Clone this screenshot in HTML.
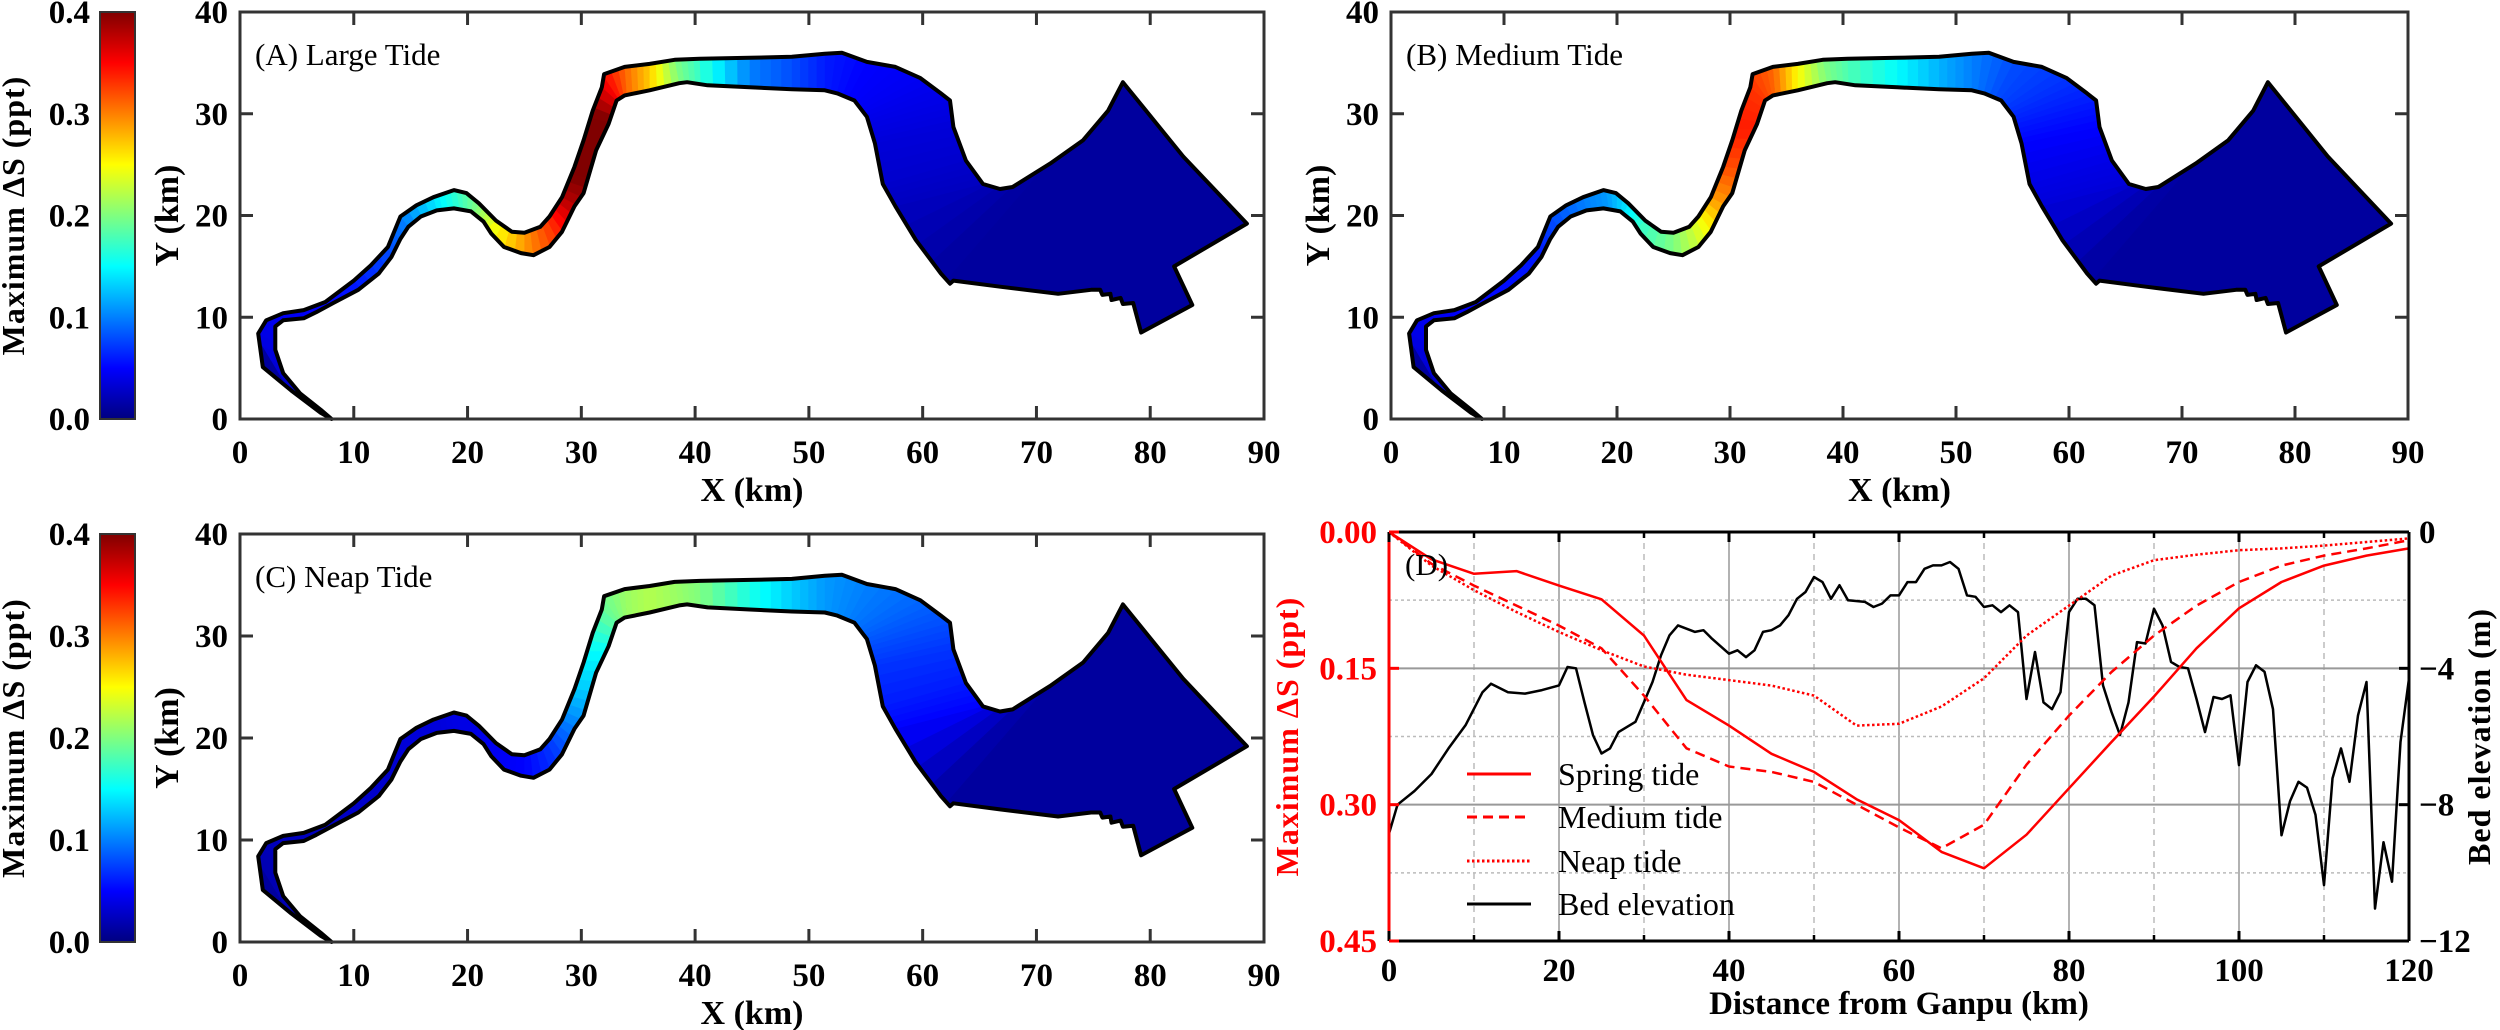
<!DOCTYPE html>
<html><head><meta charset="utf-8"><style>
html,body{margin:0;padding:0;background:#fff;}
svg{display:block;font-family:"Liberation Serif","Times New Roman",serif;}
</style></head><body>
<svg id="fig" width="2500" height="1030" viewBox="0 0 2500 1030" xmlns="http://www.w3.org/2000/svg">
<defs>
<linearGradient id="jetGrad" x1="0" y1="1" x2="0" y2="0">
<stop offset="0" stop-color="#000080"/><stop offset="0.125" stop-color="#0000ff"/><stop offset="0.375" stop-color="#00ffff"/><stop offset="0.625" stop-color="#ffff00"/><stop offset="0.875" stop-color="#ff0000"/><stop offset="1" stop-color="#800000"/>
</linearGradient>
</defs>
<g id="root"></g>
</svg>
<script>
// ---------- River map data (km) ----------
const outline = [[8.05,0.0],[7.1,0.6],[4.5,2.8],[2.0,5.1],[1.6,8.4],[2.3,9.7],[3.8,10.4],[5.6,10.7],[7.5,11.5],[10.0,13.6],[11.5,15.1],[13.0,16.9],[14.1,19.9],[15.5,21.0],[17.0,21.8],[18.8,22.5],[19.9,22.2],[21.0,21.2],[22.5,19.5],[23.9,18.4],[25.0,18.3],[26.4,18.9],[27.2,19.9],[28.3,21.8],[29.4,24.8],[30.2,27.4],[31.0,30.3],[31.8,32.6],[32.0,33.9],[33.8,34.6],[36.0,34.9],[38.2,35.3],[40.4,35.4],[44.8,35.5],[48.5,35.6],[51.4,35.9],[52.9,36.0],[55.1,35.1],[57.6,34.6],[59.8,33.5],[61.6,32.0],[62.4,31.3],[62.7,28.7],[63.8,25.4],[65.3,23.1],[66.8,22.6],[67.9,22.8],[71.2,25.1],[74.1,27.4],[76.3,30.3],[77.6,33.1],[82.9,25.8],[88.5,19.2],[82.1,15.0],[83.7,11.2],[79.2,8.5],[78.5,11.4],[77.6,11.3],[77.4,11.9],[76.6,11.7],[76.5,12.3],[75.8,12.2],[75.6,12.7],[74.8,12.7],[71.9,12.3],[66.8,13.0],[62.7,13.6],[62.4,13.3],[61.6,14.3],[59.4,17.6],[57.6,20.9],[56.5,23.1],[55.8,27.1],[55.1,29.7],[54.0,31.3],[52.5,32.0],[51.4,32.3],[48.5,32.4],[44.8,32.6],[41.1,32.8],[39.3,33.1],[38.6,33.0],[36.0,32.3],[33.8,31.8],[33.1,31.3],[32.4,29.0],[31.3,26.4],[30.2,22.2],[29.4,20.9],[28.3,18.4],[27.2,16.9],[25.8,16.1],[24.7,16.3],[23.2,16.9],[22.1,18.2],[21.4,19.4],[20.3,20.4],[18.8,20.7],[17.3,20.5],[15.9,19.9],[14.8,18.9],[14.1,17.7],[13.3,15.9],[12.2,14.3],[10.4,12.7],[8.2,11.4],[6.7,10.5],[5.6,9.9],[3.8,9.7],[3.1,9.1],[3.1,6.8],[3.8,4.5],[5.3,2.5],[7.1,0.9]];
const secL = [[8.0,0.0],[4.5,2.8],[1.6,8.4],[3.8,10.4],[7.5,11.5],[10.0,13.6],[13.0,16.9],[14.1,19.9],[17.0,21.8],[19.0,22.5],[21.0,21.2],[22.5,19.5],[25.0,18.3],[27.0,19.5],[28.3,21.8],[29.4,24.8],[30.6,28.5],[31.8,32.6],[33.8,34.6],[36.0,34.9],[38.2,35.3],[40.4,35.4],[44.8,35.5],[48.5,35.6],[51.4,35.9],[55.1,35.1],[59.8,33.5],[62.4,31.3],[62.7,28.7],[63.8,25.4],[65.3,23.1],[70.5,24.6]];
const secR = [[8.1,0.0],[5.3,2.5],[3.1,7.5],[3.8,9.7],[8.2,10.8],[10.8,12.6],[13.5,15.6],[14.8,18.9],[17.3,20.5],[19.3,20.6],[20.6,20.2],[21.8,18.8],[25.0,16.2],[27.8,17.8],[29.6,21.0],[30.8,24.6],[32.1,28.5],[33.0,31.4],[34.0,31.7],[36.0,32.3],[38.6,33.0],[40.5,32.8],[44.8,32.6],[48.5,32.4],[51.4,32.3],[53.5,31.7],[54.8,30.5],[55.3,29.0],[55.8,27.1],[56.5,23.1],[57.6,20.9],[62.0,13.8]];
const valLarge  = [.02,.03,.04,.045,.05,.06,.08,.10,.14,.17,.20,.24,.29,.33,.38,.41,.42,.36,.31,.27,.20,.17,.10,.08,.06,.05,.045,.04,.035,.03,.025,.012];
const valMedium = [.02,.03,.04,.045,.05,.055,.06,.08,.10,.11,.14,.17,.20,.24,.29,.32,.34,.33,.31,.25,.20,.18,.15,.12,.10,.08,.07,.06,.05,.04,.035,.012];
const valNeap   = [.015,.02,.02,.025,.025,.03,.03,.035,.035,.04,.04,.045,.05,.07,.10,.13,.15,.19,.21,.22,.21,.20,.16,.13,.11,.10,.09,.08,.07,.06,.05,.012];
const cbTicks = [0,0.1,0.2,0.3,0.4];
const mapXTicks = [0,10,20,30,40,50,60,70,80,90];
const mapYTicks = [0,10,20,30,40];

// ---------- Profile chart data (panel D) ----------
const distKm = [0,5,10,15,20,25,30,35,40,45,50,55,60,65,70,75,80,85,90,95,100,105,110,115,120];
const springS = [0,0.030,0.046,0.043,0.059,0.074,0.114,0.185,0.213,0.244,0.264,0.294,0.317,0.352,0.370,0.333,0.282,0.231,0.181,0.128,0.084,0.055,0.037,0.026,0.018];
const mediumS = [0,0.035,0.059,0.081,0.103,0.128,0.180,0.238,0.258,0.264,0.275,0.300,0.325,0.348,0.322,0.256,0.202,0.154,0.114,0.081,0.055,0.037,0.026,0.018,0.009];
const neapS   = [0,0.037,0.064,0.088,0.110,0.130,0.148,0.157,0.163,0.169,0.180,0.213,0.211,0.192,0.161,0.114,0.081,0.048,0.031,0.025,0.020,0.018,0.015,0.011,0.007];
const bedKm = [0,1,3,5,7,9,11,12,14,16,18,20,21,22,23,24,25,26,27,29,30,31,32,33,34,36,37,38,40,41,42,43,44,45,46,47,48,49,50,51,52,53,54,56,57,58,59,60,61,62,63,64,65,66,67,68,69,70,71,72,73,74,75,76,77,78,79,80,81,82,83,84,85,86,87,88,89,90,91,92,93,94,95,96,97,98,99,100,101,102,103,104,105,106,107,108,109,110,111,112,113,114,115,116,117,118,119,120];
const bedElev = [-8.85,-8.0,-7.6,-7.1,-6.35,-5.67,-4.7,-4.45,-4.7,-4.74,-4.64,-4.5,-3.96,-4.0,-5.0,-5.96,-6.5,-6.35,-5.87,-5.57,-4.99,-4.4,-3.62,-3.03,-2.74,-2.93,-2.88,-3.13,-3.57,-3.47,-3.67,-3.47,-2.93,-2.88,-2.74,-2.44,-1.96,-1.76,-1.32,-1.47,-1.96,-1.56,-2.0,-2.05,-2.2,-2.1,-1.86,-1.86,-1.47,-1.47,-1.08,-0.98,-0.98,-0.88,-1.08,-1.86,-1.9,-2.2,-2.15,-2.35,-2.15,-2.35,-4.9,-3.52,-5.0,-5.2,-4.7,-2.35,-1.96,-1.96,-2.15,-4.5,-5.28,-5.96,-5.0,-3.23,-3.27,-2.25,-2.74,-3.81,-3.96,-4.0,-4.9,-5.87,-4.84,-4.9,-4.79,-6.84,-4.4,-3.91,-4.1,-5.2,-8.9,-7.9,-7.33,-7.5,-8.3,-10.36,-7.23,-6.35,-7.33,-5.38,-4.4,-11.05,-9.1,-10.26,-6.16,-4.3];
const dXTicks = [0,20,40,60,80,100,120];
const dSTicks = [0,0.15,0.30,0.45];
const dETicks = [0,-4,-8,-12];
const legendLabels = ["Spring tide","Medium tide","Neap tide","Bed elevation"];

const NS = "http://www.w3.org/2000/svg";
const root = document.getElementById('root');
function mk(tag, attrs, parent){ const e=document.createElementNS(NS,tag); for(const k in attrs) e.setAttribute(k,attrs[k]); (parent||root).appendChild(e); return e; }
function txt(s, attrs, parent){ const e=mk('text',attrs,parent); e.textContent=s; return e; }
function jet(v){ const t=Math.max(0,Math.min(1,v/0.4)); const c=x=>Math.round(255*Math.max(0,Math.min(1,1.5-Math.abs(4*t-x)))); return `rgb(${c(3)},${c(2)},${c(1)})`; }

function mapPanel(id, x0, x1, y0, y1, vals, label, name){
  const sx=(x1-x0)/90, sy=(y1-y0)/40;
  const X=k=>x0+k*sx, Y=k=>y1-k*sy;
  const g=mk('g',{});
  
  
  const pts=outline.map(p=>X(p[0]).toFixed(1)+','+Y(p[1]).toFixed(1)).join(' ');
  const cp=mk('clipPath',{id:'clip'+id},g); mk('polygon',{points:pts},cp);
  const river=mk('polygon',{points:pts,fill:jet(0.012),stroke:'none'},g);
  
  
  const cg=mk('g',{'clip-path':`url(#clip${id})`},g);
  const ext=(a,b,f)=>[a[0]+(a[0]-b[0])*f, a[1]+(a[1]-b[1])*f];
  for(let i=0;i<secL.length-1;i++){
    const L0=ext(secL[i],secR[i],0.3), R0=ext(secR[i],secL[i],0.3), L1=ext(secL[i+1],secR[i+1],0.3), R1=ext(secR[i+1],secL[i+1],0.3);
    const steps=4;
    for(let s=0;s<steps;s++){
      const a=s/steps,b=(s+1)/steps+0.02;
      const lp=(P,Q,t)=>[P[0]+(Q[0]-P[0])*t,P[1]+(Q[1]-P[1])*t];
      const q=[lp(L0,L1,a),lp(L0,L1,b),lp(R0,R1,b),lp(R0,R1,a)];
      const v=vals[i]+(vals[i+1]-vals[i])*((s+0.5)/steps);
      const poly=mk('polygon',{points:q.map(p=>X(p[0]).toFixed(1)+','+Y(p[1]).toFixed(1)).join(' '),fill:jet(v)},cg);
      
      
    }
  }
  mk('polygon',{points:pts,fill:'none',stroke:'#000','stroke-width':4,'stroke-linejoin':'round'},g);
  mk('rect',{x:x0,y:y0,width:x1-x0,height:y1-y0,fill:'none',stroke:'#333','stroke-width':3},g);
  mapXTicks.forEach(t=>{
    if(t>0&&t<90){ mk('line',{x1:X(t),x2:X(t),y1:y1,y2:y1-13,stroke:'#333','stroke-width':3},g); mk('line',{x1:X(t),x2:X(t),y1:y0,y2:y0+13,stroke:'#333','stroke-width':3},g); }
    txt(String(t),{x:X(t),y:y1+44,'font-size':33,'font-weight':'bold','text-anchor':'middle'},g);
  });
  mapYTicks.forEach(t=>{
    if(t>0&&t<40){ mk('line',{x1:x0,x2:x0+13,y1:Y(t),y2:Y(t),stroke:'#333','stroke-width':3},g); mk('line',{x1:x1,x2:x1-13,y1:Y(t),y2:Y(t),stroke:'#333','stroke-width':3},g); }
    txt(String(t),{x:x0-12,y:Y(t)+11,'font-size':33,'font-weight':'bold','text-anchor':'end'},g);
  });
  const xt=txt('X (km)',{x:(x0+x1)/2,y:y1+82,'font-size':34,'font-weight':'bold','text-anchor':'middle'},g);
  
  
  const yt=txt('Y (km)',{x:0,y:0,'font-size':34,'font-weight':'bold','text-anchor':'middle',transform:`translate(${x0-62},${(y0+y1)/2}) rotate(-90)`},g);
  
  
  const pl=txt(label,{x:x0+15,y:y0+53,'font-size':31},g);
  
  
}
function colorbar(y0,y1,name){
  const g=mk('g',{});
  
  
  mk('rect',{x:100,y:y0,width:35,height:y1-y0,fill:'url(#jetGrad)',stroke:'#333','stroke-width':2},g);
  cbTicks.forEach(t=>{ const y=y1-(t/0.4)*(y1-y0); txt(t.toFixed(1),{x:90,y:y+11,'font-size':33,'font-weight':'bold','text-anchor':'end'},g); });
  const ct=txt('Maximum ΔS (ppt)',{x:0,y:0,'font-size':32,'font-weight':'bold','text-anchor':'middle','letter-spacing':'1',transform:`translate(24,${(y0+y1)/2}) rotate(-90)`},g);
  
  
}
colorbar(12,419,'colorbar-a');
colorbar(534,942,'colorbar-c');
mapPanel('A',240,1264,12,419,valLarge,'(A)  Large Tide','panel-a-large-tide');
mapPanel('B',1391,2408,12,419,valMedium,'(B)  Medium Tide','panel-b-medium-tide');
mapPanel('C',240,1264,534,942,valNeap,'(C)  Neap Tide','panel-c-neap-tide');

// ---------- Panel D ----------
(function(){
  const x0=1389,x1=2409,y0=532,y1=941;
  const X=k=>x0+k/120*(x1-x0), YS=s=>y0+s/0.45*(y1-y0), YE=e=>y0+(-e)/12*(y1-y0);
  const g=mk('g',{});
  
  
  [10,30,50,70,90,110].forEach(t=>mk('line',{x1:X(t),x2:X(t),y1:y0,y2:y1,stroke:'#bbb','stroke-width':1.5,'stroke-dasharray':'6,5'},g));
  [20,40,60,80,100].forEach(t=>mk('line',{x1:X(t),x2:X(t),y1:y0,y2:y1,stroke:'#999','stroke-width':1.5},g));
  [0.075,0.225,0.375].forEach(t=>mk('line',{x1:x0,x2:x1,y1:YS(t),y2:YS(t),stroke:'#bbb','stroke-width':1.5,'stroke-dasharray':'3,3'},g));
  [0.15,0.30].forEach(t=>mk('line',{x1:x0,x2:x1,y1:YS(t),y2:YS(t),stroke:'#999','stroke-width':2},g));
  const line=(xs,ys,fx,fy,attrs,name)=>{ const p=mk('polyline',Object.assign({points:xs.map((x,i)=>fx(x).toFixed(1)+','+fy(ys[i]).toFixed(1)).join(' '),fill:'none','stroke-linejoin':'round'},attrs),g);   };
  line(bedKm,bedElev,X,YE,{stroke:'#000','stroke-width':2.5},'bed-elevation-line');
  line(distKm,neapS,X,YS,{stroke:'#f00','stroke-width':2.5,'stroke-dasharray':'2.5,2.5'},'neap-tide-line');
  line(distKm,mediumS,X,YS,{stroke:'#f00','stroke-width':2.5,'stroke-dasharray':'10,6'},'medium-tide-line');
  line(distKm,springS,X,YS,{stroke:'#f00','stroke-width':2.5},'spring-tide-line');
  mk('line',{x1:x0,x2:x1,y1:y0,y2:y0,stroke:'#000','stroke-width':3},g);
  mk('line',{x1:x0,x2:x1,y1:y1,y2:y1,stroke:'#000','stroke-width':3},g);
  mk('line',{x1:x1,x2:x1,y1:y0,y2:y1,stroke:'#000','stroke-width':3},g);
  mk('line',{x1:x0,x2:x0,y1:y0,y2:y1,stroke:'#f00','stroke-width':3},g);
  dXTicks.forEach(t=>{ mk('line',{x1:X(t),x2:X(t),y1:y1,y2:y1-10,stroke:'#000','stroke-width':3},g); mk('line',{x1:X(t),x2:X(t),y1:y0,y2:y0+10,stroke:'#000','stroke-width':3},g);
    txt(String(t),{x:X(t),y:y1+40,'font-size':33,'font-weight':'bold','text-anchor':'middle'},g); });
  [10,30,50,70,90,110].forEach(t=>{ mk('line',{x1:X(t),x2:X(t),y1:y1,y2:y1-6,stroke:'#000','stroke-width':2.5},g); mk('line',{x1:X(t),x2:X(t),y1:y0,y2:y0+6,stroke:'#000','stroke-width':2.5},g); });
  dSTicks.forEach(t=>{ mk('line',{x1:x0,x2:x0+10,y1:YS(t),y2:YS(t),stroke:'#f00','stroke-width':3},g);
    txt(t.toFixed(2),{x:x0-12,y:YS(t)+11,'font-size':33,'font-weight':'bold','text-anchor':'end',fill:'#f00'},g); });
  dETicks.forEach(t=>{ mk('line',{x1:x1,x2:x1-10,y1:YE(t),y2:YE(t),stroke:'#000','stroke-width':3},g);
    txt(t===0?'0':'\u2212'+(-t),{x:x1+10,y:YE(t)+11,'font-size':33,'font-weight':'bold'},g); });
  const lt=txt('Maximum ΔS (ppt)',{x:0,y:0,'font-size':32,'font-weight':'bold','text-anchor':'middle',fill:'#f00','letter-spacing':'1',transform:`translate(1298,${(y0+y1)/2}) rotate(-90)`},g);
  
  
  const rt=txt('Bed elevation (m)',{x:0,y:0,'font-size':32,'font-weight':'bold','text-anchor':'middle','letter-spacing':'1',transform:`translate(2490,${(y0+y1)/2}) rotate(-90)`},g);
  
  
  const xt=txt('Distance from Ganpu (km)',{x:(x0+x1)/2,y:1014,'font-size':33,'font-weight':'bold','text-anchor':'middle'},g);
  
  
  txt('(D)',{x:1405,y:575,'font-size':31},g);
  const styles=[{stroke:'#f00'},{stroke:'#f00','stroke-dasharray':'10,6'},{stroke:'#f00','stroke-dasharray':'2.5,2.5'},{stroke:'#000'}];
  const rowsY=[774,817,861,904];
  legendLabels.forEach((lab,i)=>{
    const e=mk('g',{},g);
    
    
    mk('line',Object.assign({x1:1467,x2:1531,y1:rowsY[i],y2:rowsY[i],'stroke-width':3},styles[i]),e);
    txt(lab,{x:1558,y:rowsY[i]+11,'font-size':32},e);
  });
})();
</script>
</body></html>
